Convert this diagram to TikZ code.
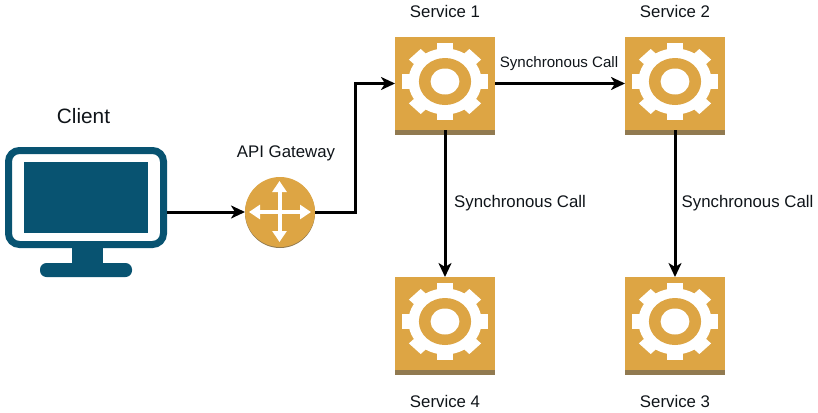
\documentclass[tikz,border=0pt]{standalone}
\usepackage{fontspec}
\setmainfont{Liberation Sans}
\usetikzlibrary{arrows.meta}
\definecolor{gold}{RGB}{221,165,68}
\definecolor{stripc}{RGB}{145,122,80}
\definecolor{monblue}{RGB}{8,83,113}
\definecolor{txt}{RGB}{15,20,25}
\tikzset{
  svc/.style={rectangle,fill=gold,minimum width=100pt,minimum height=93pt,inner sep=0pt,outer sep=0pt},
  conn/.style={draw=black,line width=3pt,-{Stealth[length=14pt,width=13pt,inset=4pt]}},
  lbl/.style={text=txt,font=\fontsize{16.8}{18}\selectfont,inner sep=0pt},
  lblsmall/.style={text=txt,font=\fontsize{15.1}{17}\selectfont,inner sep=0pt},
  lblbig/.style={text=txt,font=\fontsize{20.8}{22}\selectfont,inner sep=0pt},
  rarrow/.style={draw=white,line width=4pt,{Triangle[length=11pt,width=14pt]}-{Triangle[length=11pt,width=14pt]}}
}
\newcommand{\gearicon}[1]{%
  \fill[stripc] ([yshift=-4.5pt]#1.south west) rectangle (#1.south east);
  \begin{scope}[shift={(#1.center)},xscale=1.11]
    \fill[white] (0,-2) circle (33);
    \foreach \a in {0,45,...,315}
      \fill[white,shift={(0,-2)},rotate=\a] (-7.5,0) rectangle (7.5,38.5);
    \fill[gold] (0,-2) circle (23.5);
    \fill[white] (0,-2) circle (13);
  \end{scope}}
\begin{document}
\begin{tikzpicture}[x=1pt,y=-1pt]
\useasboundingbox (0,0) rectangle (818,412);
% client
\node[rectangle,draw=monblue,fill=white,line width=7pt,rounded corners=11pt,minimum width=155pt,minimum height=94pt,outer sep=3.5pt,inner sep=0pt] (client) at (86,197.5) {};
\node[rectangle,fill=monblue,minimum width=124pt,minimum height=71pt,inner sep=0pt] (screen) at (86,197.5) {};
\node[rectangle,fill=monblue,minimum width=31pt,minimum height=18pt,inner sep=0pt] (neck) at (87.5,256) {};
\node[rectangle,fill=monblue,rounded corners=6.5pt,minimum width=92pt,minimum height=14pt,inner sep=0pt] (base) at (86,270) {};
\node[lblbig] (clientlbl) at (83.5,116) {Client};
% router
\node[circle,fill=stripc,minimum size=70pt,inner sep=0pt,outer sep=0pt] (routershadow) at (280,213) {};
\node[circle,fill=gold,minimum size=70pt,inner sep=0pt,outer sep=0pt] (router) at (280,212) {};
\coordinate (rl) at (249,212); \coordinate (rr) at (311,212);
\coordinate (rt) at (279.5,181); \coordinate (rb) at (279.5,242);
\draw[rarrow] (rl) -- (rr);
\draw[rarrow] (rt) -- (rb);
\node[lbl] (gwlbl) at (286,153) {API Gateway};
% services
\node[svc] (s1) at (445,83.5) {};
\node[svc] (s2) at (675,83.5) {};
\node[svc] (s4) at (445,323.5) {};
\node[svc] (s3) at (675,323.5) {};
\gearicon{s1}
\gearicon{s2}
\gearicon{s4}
\gearicon{s3}
\node[lbl] (s1lbl) at (445,11) {Service 1};
\node[lbl] (s2lbl) at (675,11) {Service 2};
\node[lbl] (s4lbl) at (445,401.5) {Service 4};
\node[lbl] (s3lbl) at (675,401.5) {Service 3};
% connectors
\draw[conn] (client.east |- router.west) -- (router.west);
\coordinate (bend1) at (355,212);
\coordinate (bend2) at (355,83.5);
\draw[conn,line join=miter] (router.east) -- (bend1) -- (bend2) -- (s1.west);
\draw[conn] (s1.east) -- (s2.west);
\draw[conn] (s1.south) -- (s4.north);
\draw[conn] (s2.south) -- (s3.north);
\node[lblsmall] (c1) at (559,64) {Synchronous Call};
\node[lbl] (c2) at (520,203) {Synchronous Call};
\node[lbl] (c3) at (747.5,203) {Synchronous Call};
\end{tikzpicture}
\end{document}
